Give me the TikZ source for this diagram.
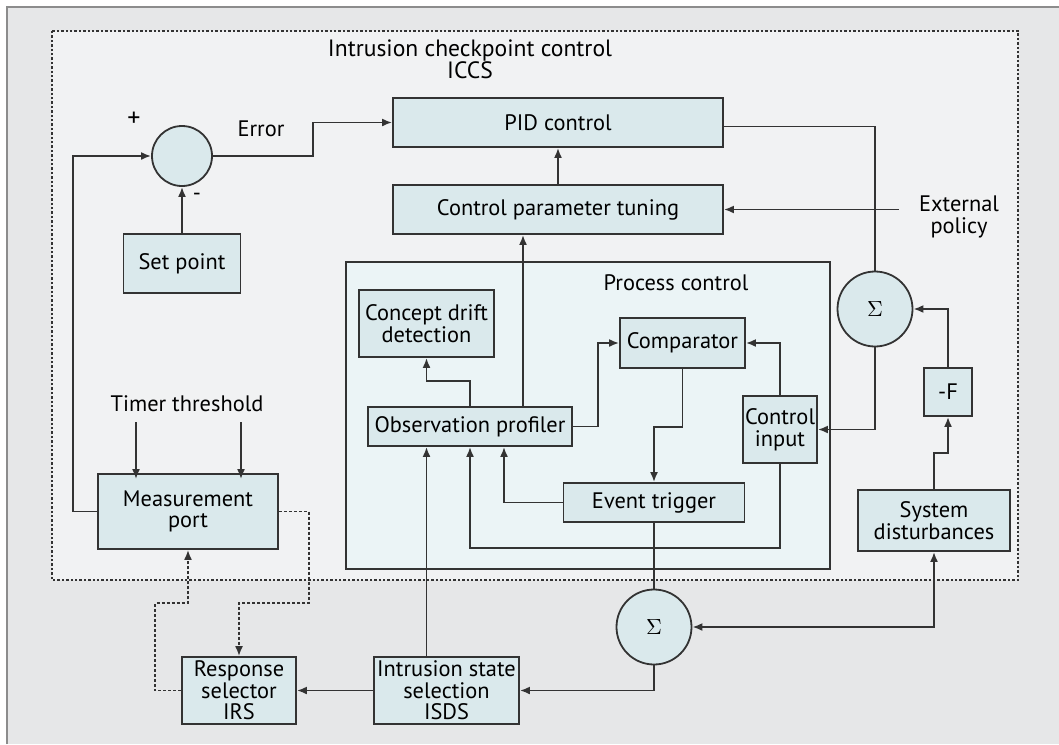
\documentclass[tikz,border=0pt]{standalone}
\usepackage{fontspec}
\setmainfont{PT Sans}
\usepackage{tikz}
\usetikzlibrary{arrows.meta, positioning}

\definecolor{framefill}{HTML}{E6E7E8}
\definecolor{framedraw}{HTML}{8C8C8C}
\definecolor{panelfill}{HTML}{F1F2F3}
\definecolor{procfill}{HTML}{EBF4F6}
\definecolor{boxfill}{HTML}{DAE9EC}
\definecolor{linecol}{HTML}{333333}

\begin{document}
\begin{tikzpicture}[
            x=0.5pt, y=-0.5pt,
            >={Latex[length=5pt,width=4pt]},
            font=\fontsize{11.2}{10.8}\selectfont,
            % Block style
            block/.style={
                draw=linecol,
                fill=boxfill,
                rectangle,
                line width=0.9pt,
                inner sep=0pt,
                align=center
            },
            % Summing junctions
            sumnode/.style={
                draw=linecol,
                fill=boxfill,
                circle,
                line width=0.9pt,
                inner sep=0pt
            },
            % Signal lines
            signal/.style={
                draw=linecol,
                ->,
                line width=0.95pt
            },
            % Plain lines (no tip)
            wire/.style={
                draw=linecol,
                line width=0.95pt
            },
            % Dotted response lines
            link/.style={
                draw=linecol,
                ->,
                line width=0.9pt,
                dash pattern=on 1.5pt off 1pt
            },
            txt/.style={align=center, inner sep=2pt}
        ]

            \useasboundingbox (0,0) rectangle (1059,744);

            % Background frame and panels
            \fill[white] (0,0) rectangle (1059,744);
            \fill[framefill] (7,7) rectangle (1059,744);
            \draw[framedraw, line width=1pt] (7,744) -- (7,7) -- (1059,7);
            \draw[linecol, fill=panelfill, line width=0.6pt, dash pattern=on 1.2pt off 1pt]
                (52,31) rectangle (1018,580);
            \node[txt, font=\fontsize{11.8}{10.8}\selectfont] (title) at (470,59) {Intrusion checkpoint control\\ICCS};

            % Process control container
            \node[draw=linecol, fill=procfill, line width=0.9pt, minimum width=242pt,
                  minimum height=153.5pt, inner sep=0pt] (proc) at (588,415.5) {};
            \node[txt] (proctitle) at (676,283) {Process control};

            % Blocks
            \node[block, minimum width=165pt, minimum height=24.5pt] (pid) at (558,122.5) {PID control};
            \node[block, minimum width=165pt, minimum height=24.5pt] (tune) at (558,209.5) {Control parameter tuning};
            \node[block, minimum width=58.5pt, minimum height=29.5pt] (setp) at (182,263.5) {Set point};
            \node[block, minimum width=67.5pt, minimum height=33.5pt] (drift) at (426.5,323.5) {Concept drift\\detection};
            \node[block, minimum width=102pt, minimum height=19.5pt] (obs) at (470,426.5) {Observation profiler};
            \node[block, minimum width=62.5pt, minimum height=25pt] (comp) at (682.5,343) {Comparator};
            \node[block, minimum width=37pt, minimum height=33.5pt] (ctrl) at (780,429.5) {Control\\input};
            \node[block, minimum width=90.5pt, minimum height=19.5pt] (event) at (654,502.5) {Event trigger};
            \node[block, minimum width=24pt, minimum height=24pt] (negf) at (948,392) {-F};
            \node[block, minimum width=76pt, minimum height=30.5pt] (dist) at (934,520.5) {System\\disturbances};
            \node[block, minimum width=90pt, minimum height=37.5pt] (meas) at (188,511.5) {Measurement\\port};
            \node[block, minimum width=57pt, minimum height=33.5pt] (irs) at (239,690.5) {Response\\selector\\IRS};
            \node[block, minimum width=72.5pt, minimum height=33.5pt] (isds) at (446.5,690.5) {Intrusion state\\selection\\ISDS};

            % Summing junctions
            \node[sumnode, minimum size=30pt] (err) at (182,156) {};
            \node[sumnode, minimum size=37.5pt] (sumr) at (875,309) {$\Sigma$};
            \node[sumnode, minimum size=37.5pt] (sumb) at (654,627) {$\Sigma$};

            % Free labels
            \node[txt, font=\fontsize{13}{13}\selectfont] (plus) at (134,119) {+};
            \node[txt] (minus) at (197,197) {-};
            \node[txt] (errlabel) at (261,129) {Error};
            \node[txt] (ext) at (959,217) {External\\policy};
            \node[txt] (timer) at (187,404) {Timer threshold};

            % Outer loop
            \draw[signal] (meas.west) -- ++(-24,0) |- (err.west);
            \draw[signal] (setp.north) -- (err.south);
            \draw[signal] (err.east) -- ++(100,0) |- (pid.west);
            \draw[signal] (tune.north) -- (pid.south);
            \draw[signal] ([xshift=-8pt]ext.west |- tune.east) -- (tune.east);
            \draw[wire] ([yshift=-2pt]pid.east) -| (sumr.north);
            \draw[signal] (sumr.south) |- (ctrl.east);
            \draw[signal] (negf.north) |- (sumr.east);
            \draw[signal] (dist.north) -- ++(0,-36) -| (negf.south);
            \draw[signal, <->] (sumb.east) -| (dist.south);
            \draw[signal] (sumb.south) |- (isds.east);
            \draw[wire] (event.south) -- (sumb.north);
            \draw[signal] (isds.west) -- (irs.east);
            \draw[signal] (isds.north -| drift.south) -- (obs.south -| drift.south);

            % Process control links
            \draw[signal] (obs.north) -- ++(0,-25) -| (drift.south);
            \draw[signal] ([xshift=26.5pt]obs.north) -- ([xshift=26.5pt]obs.north |- tune.south);
            \draw[signal] (obs.east) -- ++(25,0) |- (comp.west);
            \draw[signal] (comp.south) -- ++(0,58) -| (event.north);
            \draw[signal] (ctrl.north) |- (comp.east);
            \draw[signal] (event.west) -| ([xshift=17pt]obs.south);
            \draw[signal] (ctrl.south) -- ++(0,84) -| (obs.south);

            % Timer threshold inputs
            \draw[signal] ([xshift=-25.5pt,yshift=-3pt]timer.south) -- ([xshift=-25.5pt,yshift=-3pt]timer.south |- meas.north);
            \draw[signal] ([xshift=27pt,yshift=-3pt]timer.south) -- ([xshift=27pt,yshift=-3pt]timer.south |- meas.north);

            % Response selector loop
            \draw[link] (meas.east) -- ++(30,0) -- ++(0,91.5) -| (irs.north);
            \draw[link] (irs.west) -- ++(-26,0) -- ++(0,-87.5) -| (meas.south);

        \end{tikzpicture}
\end{document}
